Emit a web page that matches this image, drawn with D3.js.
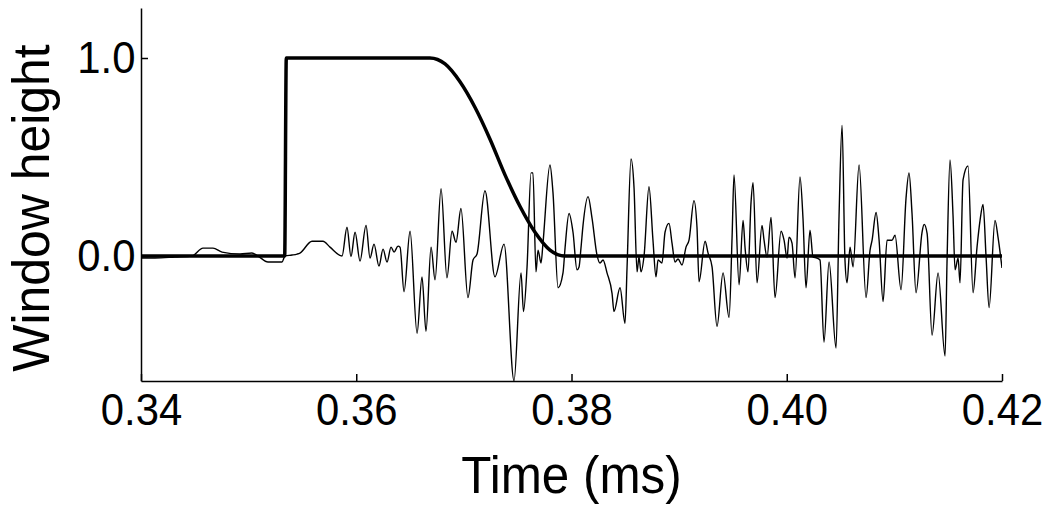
<!DOCTYPE html>
<html>
<head>
<meta charset="utf-8">
<script src="https://cdn.jsdelivr.net/npm/d3@7"></script>
<style>
  html, body { margin: 0; padding: 0; background: #fff; }
  svg { display: block; }
  text { font-family: "Liberation Sans", Arial, sans-serif; fill: #000; }
</style>
</head>
<body>
<svg id="chart" width="1050" height="507"></svg>
<script>
// ---- Data ----
const xTicks = [0.34, 0.36, 0.38, 0.40, 0.42];
const xTickLabels = ["0.34", "0.36", "0.38", "0.40", "0.42"];
const yTicks = [0.0, 1.0];
const yTickLabels = ["0.0", "1.0"];
const xLabel = "Time (ms)";
const yLabel = "Window height";

// Window (thick line)
const windowTime = [0.34, 0.35335, 0.3535, 0.36685, 0.36825, 0.36964, 0.37104, 0.37243, 0.37382, 0.37522, 0.37661, 0.37800, 0.37940, 0.42];
const windowHeight = [0, 0, 1, 1, 0.97, 0.88, 0.75, 0.59, 0.41, 0.25, 0.12, 0.03, 0, 0];

// Signal (thin line)
const signalTime = [
  0.34000, 0.34130, 0.34316, 0.34474, 0.34576, 0.34669, 0.34753, 0.34920, 0.35031, 0.35087,
  0.35180, 0.35310, 0.35338, 0.35403, 0.35450, 0.35477, 0.35589, 0.35691, 0.35756, 0.35868,
  0.35914, 0.35951, 0.35989, 0.36035, 0.36091, 0.36128, 0.36165, 0.36211, 0.36249, 0.36286,
  0.36323, 0.36351, 0.36388, 0.36407, 0.36444, 0.36500, 0.36565, 0.36611, 0.36648, 0.36695,
  0.36732, 0.36788, 0.36843, 0.36890, 0.36927, 0.36973, 0.37038, 0.37085, 0.37122, 0.37196,
  0.37289, 0.37373, 0.37466, 0.37531, 0.37554, 0.37587, 0.37624, 0.37642, 0.37670, 0.37689,
  0.37717, 0.37735, 0.37800, 0.37828, 0.37875, 0.37921, 0.37940, 0.37977, 0.38014, 0.38051,
  0.38070, 0.38088, 0.38107, 0.38154, 0.38191, 0.38237, 0.38265, 0.38293, 0.38330, 0.38377,
  0.38395, 0.38451, 0.38497, 0.38516, 0.38553, 0.38581, 0.38609, 0.38627, 0.38646, 0.38674,
  0.38720, 0.38757, 0.38785, 0.38804, 0.38841, 0.38869, 0.38906, 0.38934, 0.38962, 0.38990,
  0.39027, 0.39064, 0.39092, 0.39138, 0.39166, 0.39185, 0.39241, 0.39269, 0.39306, 0.39352,
  0.39408, 0.39464, 0.39492, 0.39510, 0.39557, 0.39594, 0.39613, 0.39640, 0.39668, 0.39687,
  0.39724, 0.39770, 0.39789, 0.39817, 0.39854, 0.39891, 0.39947, 0.39975, 0.40003, 0.40021,
  0.40049, 0.40077, 0.40123, 0.40151, 0.40179, 0.40216, 0.40244, 0.40281, 0.40309, 0.40346,
  0.40393, 0.40458, 0.40486, 0.40514, 0.40541, 0.40560, 0.40588, 0.40616, 0.40672, 0.40737,
  0.40774, 0.40793, 0.40830, 0.40858, 0.40895, 0.40932, 0.40978, 0.41006, 0.41062, 0.41108,
  0.41136, 0.41164, 0.41201, 0.41257, 0.41276, 0.41304, 0.41350, 0.41406, 0.41471, 0.41489,
  0.41517, 0.41545, 0.41564, 0.41592, 0.41610, 0.41638, 0.41684, 0.41731, 0.41768, 0.41796,
  0.41824, 0.41852, 0.41880, 0.41935, 0.41963, 0.42000
];
const signalValue = [
  -0.01, -0.01, -0.005, 0, 0.04, 0.04, 0.02, 0.01, 0.015, 0,
  -0.03, -0.03, 0, 0.005, 0.01, 0.015, 0.075, 0.075, 0.045, 0,
  0.145, -0.003, 0.12, -0.025, 0.155, -0.01, 0.06, -0.05, 0.035, -0.03,
  0.045, 0.02, 0.05, 0.045, -0.18, 0.125, -0.39, -0.105, -0.38, 0.045,
  -0.12, 0.34, -0.11, 0.125, 0.07, 0.24, -0.21, -0.02, 0.01, 0.33,
  -0.105, 0.06, -0.63, -0.085, -0.28, -0.055, 0.42, 0.42, -0.08, 0.03,
  -0.035, 0.065, 0.46, 0.32, -0.16, -0.085, 0.04, 0.215, 0.12, -0.07,
  -0.055, 0.04, 0.155, 0.30, 0.19, 0.005, -0.035, -0.02, -0.085, -0.19,
  -0.28, -0.16, -0.34, -0.06, 0.49, 0.345, -0.08, -0.005, -0.08, 0.0,
  0.35, 0.08, -0.105, -0.02, -0.035, 0.12, 0.165, 0.065, -0.03, -0.015,
  -0.045, 0.045, 0.08, 0.28, 0.145, -0.13, 0.075, 0.015, -0.055, -0.355,
  -0.085, -0.31, 0.095, 0.41, -0.145, 0.18, 0.04, -0.08, 0.27, 0.37,
  -0.135, 0.155, 0.08, -0.005, 0.195, -0.21, 0.125, 0.08, -0.01, 0.095,
  0.065, -0.11, 0.40, 0.19, -0.16, 0.13, -0.005, -0.01, -0.02, -0.435,
  -0.03, -0.465, 0.205, 0.66, -0.02, -0.135, 0.045, -0.055, 0.46, -0.21,
  0.03, 0.08, 0.22, 0.08, -0.23, 0.08, 0.08, 0.105, -0.17, 0.29,
  0.42, 0.215, -0.185, 0.12, 0.16, 0.115, -0.40, -0.085, -0.505, -0.035,
  0.485, 0.205, -0.07, -0.01, -0.135, 0.385, 0.455, -0.185, 0.045, 0.18,
  0.26, -0.005, -0.26, 0.18, 0.095, -0.06
];

// ---- Layout ----
const svg = d3.select("#chart");
const mLeft = 141, mRight = 1002, mTop = 8, mBottom = 381;

const x = d3.scaleLinear().domain([0.34, 0.42]).range([mLeft, mRight]);
const y = d3.scaleLinear().domain([-0.631, 1.2525]).range([mBottom, mTop]);

svg.append("defs").append("clipPath").attr("id", "plotclip")
  .append("rect").attr("x", mLeft).attr("y", mTop).attr("width", mRight - mLeft).attr("height", mBottom - mTop);

const plot = svg.append("g").attr("clip-path", "url(#plotclip)");

const signal = signalTime.map((t, i) => [t, signalValue[i]]);
const win = windowTime.map((t, i) => [t, windowHeight[i]]);

plot.append("path")
  .datum(signal)
  .attr("fill", "none")
  .attr("stroke", "#000")
  .attr("stroke-width", 1.4)
  .attr("stroke-linejoin", "round")
  .attr("d", d3.line().x(d => x(d[0])).y(d => y(d[1])).curve(d3.curveMonotoneX));

plot.append("path")
  .datum(win)
  .attr("fill", "none")
  .attr("stroke", "#000")
  .attr("stroke-width", 3.5)
  .attr("stroke-linejoin", "miter")
  .attr("d", d3.line().x(d => x(d[0])).y(d => y(d[1])).curve(d3.curveMonotoneX));

// ---- Axes ----
const xAxis = d3.axisBottom(x)
  .tickValues(xTicks)
  .tickFormat((d, i) => xTickLabels[i])
  .tickSizeInner(-7)
  .tickSizeOuter(0)
  .tickPadding(12);

const gx = svg.append("g").attr("transform", `translate(0,${mBottom})`).call(xAxis);
gx.select(".domain").attr("stroke", "#000").attr("stroke-width", 1.5);
gx.selectAll(".tick line").attr("stroke", "#000").attr("stroke-width", 1.5);
gx.selectAll(".tick text")
  .attr("font-size", 45)
  .attr("font-family", "Liberation Sans, Arial, sans-serif")
  .attr("fill", "#000")
  .attr("dy", "0.71em")
  .attr("transform", "scale(0.93,1)");

const yAxis = d3.axisLeft(y)
  .tickValues(yTicks)
  .tickFormat((d, i) => yTickLabels[i])
  .tickSizeInner(-7)
  .tickSizeOuter(0)
  .tickPadding(6);

const gy = svg.append("g").attr("transform", `translate(${mLeft},0)`).call(yAxis);
gy.select(".domain").attr("stroke", "#000").attr("stroke-width", 1.5);
gy.selectAll(".tick line").attr("stroke", "#000").attr("stroke-width", 1.5);
gy.selectAll(".tick text")
  .attr("font-size", 45)
  .attr("font-family", "Liberation Sans, Arial, sans-serif")
  .attr("fill", "#000")
  .attr("transform", "scale(0.93,1)");

// ---- Axis titles ----
svg.append("text")
  .attr("transform", `translate(${(mLeft + mRight) / 2},493) scale(0.95,1)`)
  .attr("text-anchor", "middle")
  .attr("font-size", 52)
  .text(xLabel);

svg.append("text")
  .attr("transform", `translate(49,208) rotate(-90) scale(0.96,1)`)
  .attr("text-anchor", "middle")
  .attr("font-size", 52)
  .text(yLabel);
</script>
</body>
</html>
